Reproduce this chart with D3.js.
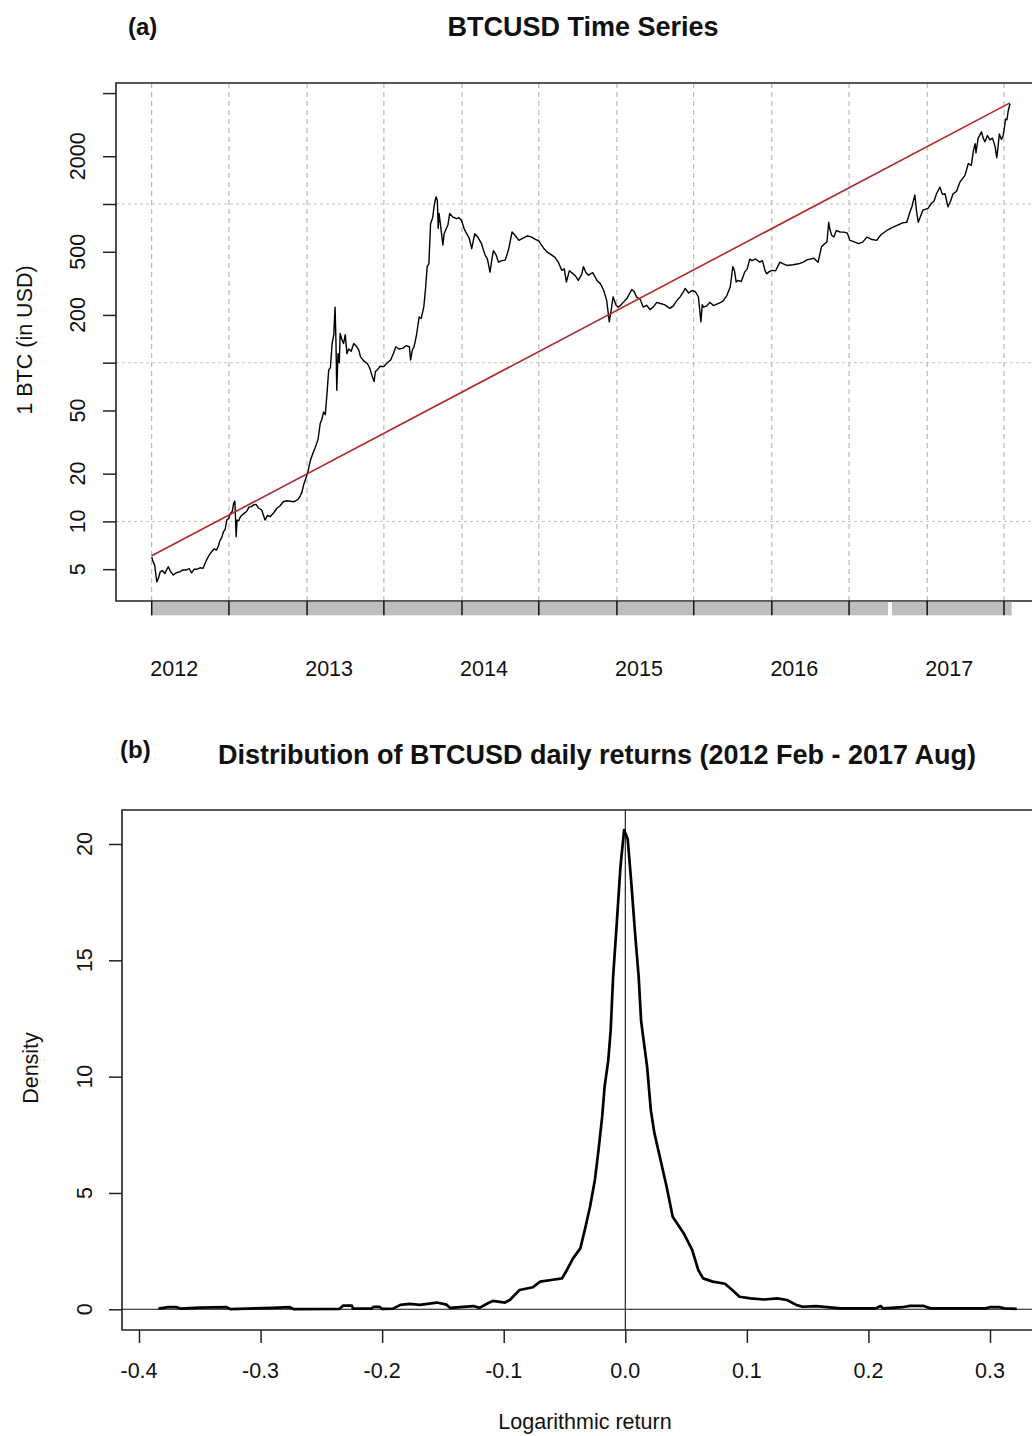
<!DOCTYPE html>
<html>
<head>
<meta charset="utf-8">
<script src="https://cdn.jsdelivr.net/npm/d3@7"></script>
<style>
  body { margin: 0; background: #fff; }
  svg { display: block; }
  text { font-family: "Liberation Sans", Arial, sans-serif; fill: #111; }
</style>
</head>
<body>
<svg id="fig" width="1032" height="1436"></svg>
<script>
// ---------- Panel (a): BTCUSD closing price, log scale ----------
const priceSeries = [
  ["2012-02-01",5.98],["2012-02-04",5.6],["2012-02-08",5.3],["2012-02-13",4.16],["2012-02-17",4.4],
  ["2012-02-21",4.81],["2012-02-26",4.9],["2012-03-03",4.70],["2012-03-07",4.95],["2012-03-11",5.18],
  ["2012-03-16",4.85],["2012-03-23",4.59],["2012-03-30",4.75],["2012-04-07",4.81],["2012-04-14",4.95],
  ["2012-04-23",4.94],["2012-04-29",5.05],["2012-05-05",4.74],["2012-05-11",5.0],["2012-05-17",4.99],
  ["2012-05-25",5.1],["2012-06-01",5.06],["2012-06-09",5.70],["2012-06-15",6.1],["2012-06-21",6.43],
  ["2012-06-27",6.7],["2012-07-03",6.6],["2012-07-07",7.0],["2012-07-11",7.6],["2012-07-15",7.9],
  ["2012-07-19",8.6],["2012-07-23",8.9],["2012-07-27",10.2],["2012-08-01",10.5],["2012-08-04",11.2],
  ["2012-08-09",11.6],["2012-08-12",13.0],["2012-08-15",13.4],["2012-08-18",8.0],["2012-08-20",10.2],
  ["2012-08-24",10.1],["2012-08-28",10.7],["2012-09-05",11.2],["2012-09-12",11.6],["2012-09-17",12.3],
  ["2012-09-23",12.4],["2012-09-28",12.7],["2012-10-04",12.8],["2012-10-10",12.1],["2012-10-17",11.8],
  ["2012-10-25",10.2],["2012-10-31",10.9],["2012-11-06",10.7],["2012-11-14",11.3],["2012-11-22",12.1],
  ["2012-11-29",12.5],["2012-12-07",13.3],["2012-12-15",13.5],["2012-12-23",13.4],["2012-12-31",13.3],
  ["2013-01-06",13.5],["2013-01-12",13.9],["2013-01-16",14.5],["2013-01-20",15.3],["2013-01-24",17],
  ["2013-01-28",18.3],["2013-02-03",20.5],["2013-02-09",24.3],["2013-02-15",27],["2013-02-21",29.5],
  ["2013-02-27",33],["2013-03-04",41.4],["2013-03-08",44],["2013-03-12",48.9],["2013-03-16",47],
  ["2013-03-20",64.1],["2013-03-24",89.8],["2013-03-28",93],["2013-04-01",132],["2013-04-05",150],
  ["2013-04-08",224],["2013-04-10",140],["2013-04-12",67],["2013-04-15",114],["2013-04-18",100],
  ["2013-04-20",153],["2013-04-24",140],["2013-04-28",132],["2013-05-02",150],["2013-05-06",114],
  ["2013-05-10",122],["2013-05-16",118],["2013-05-22",132],["2013-05-28",127],["2013-06-03",120],
  ["2013-06-07",108.8],["2013-06-14",103],["2013-06-23",98.9],["2013-06-29",92],["2013-07-05",81.4],
  ["2013-07-09",76],["2013-07-12",88],["2013-07-16",89.8],["2013-07-23",95],["2013-08-01",94.5],
  ["2013-08-09",100],["2013-08-17",104],["2013-08-24",115],["2013-08-29",126],["2013-09-05",122],
  ["2013-09-14",123],["2013-09-22",128],["2013-09-30",126],["2013-10-03",104],["2013-10-07",120],
  ["2013-10-11",126],["2013-10-17",150],["2013-10-23",194],["2013-10-28",190],["2013-11-03",224],
  ["2013-11-07",290],["2013-11-11",403],["2013-11-15",420],["2013-11-19",751],["2013-11-24",820],
  ["2013-11-28",1000],["2013-12-02",1110],["2013-12-05",1050],["2013-12-07",700],["2013-12-09",872],
  ["2013-12-13",717],["2013-12-18",552],["2013-12-21",650],["2013-12-24",681],["2013-12-30",740],
  ["2014-01-03",872],["2014-01-10",830],["2014-01-19",808],["2014-01-25",820],["2014-01-31",788],
  ["2014-02-06",700],["2014-02-12",650],["2014-02-18",610],["2014-02-24",523],["2014-03-03",650],
  ["2014-03-10",620],["2014-03-19",562],["2014-03-27",480],["2014-04-02",450],["2014-04-08",372],
  ["2014-04-12",440],["2014-04-16",508],["2014-04-22",480],["2014-04-28",430],["2014-05-06",440],
  ["2014-05-14",443],["2014-05-22",520],["2014-05-30",666],["2014-06-05",640],["2014-06-15",590],
  ["2014-06-25",610],["2014-07-05",629],["2014-07-14",620],["2014-07-24",599],["2014-08-01",585],
  ["2014-08-05",562],["2014-08-14",520],["2014-08-21",497],["2014-08-30",480],["2014-09-08",461],
  ["2014-09-16",430],["2014-09-24",382],["2014-09-30",390],["2014-10-05",322],["2014-10-12",380],
  ["2014-10-21",363],["2014-10-27",350],["2014-11-02",330],["2014-11-10",360],["2014-11-14",403],
  ["2014-11-20",370],["2014-11-26",356],["2014-12-06",370],["2014-12-16",330],["2014-12-24",315],
  ["2015-01-01",285],["2015-01-08",246],["2015-01-14",181],["2015-01-18",210],["2015-01-23",260],
  ["2015-01-30",230],["2015-02-04",224],["2015-02-10",230],["2015-02-16",240],["2015-02-25",255],
  ["2015-03-08",289],["2015-03-14",280],["2015-03-19",260],["2015-03-28",250],["2015-04-04",224],
  ["2015-04-12",230],["2015-04-20",216],["2015-04-28",225],["2015-05-06",240],["2015-05-14",236],
  ["2015-05-24",232],["2015-06-06",220],["2015-06-14",228],["2015-06-22",246],["2015-06-30",260],
  ["2015-07-06",275],["2015-07-12",294],["2015-07-20",275],["2015-07-28",285],["2015-08-05",280],
  ["2015-08-12",260],["2015-08-18",181],["2015-08-21",232],["2015-08-24",224],["2015-09-01",228],
  ["2015-09-08",240],["2015-09-16",229],["2015-09-26",235],["2015-10-04",240],["2015-10-10",246],
  ["2015-10-18",265],["2015-10-26",300],["2015-11-01",403],["2015-11-05",380],["2015-11-09",322],
  ["2015-11-13",330],["2015-11-21",325],["2015-11-29",372],["2015-12-05",390],["2015-12-11",449],
  ["2015-12-16",440],["2015-12-24",450],["2016-01-04",430],["2016-01-10",440],["2016-01-16",380],
  ["2016-01-20",363],["2016-01-26",375],["2016-02-01",382],["2016-02-10",380],["2016-02-20",430],
  ["2016-02-28",420],["2016-03-08",410],["2016-03-22",414],["2016-04-04",420],["2016-04-15",430],
  ["2016-04-24",445],["2016-05-01",449],["2016-05-10",455],["2016-05-20",430],["2016-05-28",537],
  ["2016-06-04",560],["2016-06-10",578],["2016-06-14",767],["2016-06-17",690],["2016-06-21",636],
  ["2016-06-26",620],["2016-07-02",680],["2016-07-11",666],["2016-07-20",665],["2016-07-28",655],
  ["2016-08-03",590],["2016-08-12",580],["2016-08-23",562],["2016-09-02",575],["2016-09-12",618],
  ["2016-09-22",600],["2016-10-05",590],["2016-10-15",640],["2016-10-29",681],["2016-11-10",710],
  ["2016-11-22",733],["2016-12-05",760],["2016-12-15",767],["2016-12-23",900],["2016-12-27",961],
  ["2017-01-03",1140],["2017-01-07",900],["2017-01-11",767],["2017-01-16",830],["2017-01-22",915],
  ["2017-02-03",938],["2017-02-11",1011],["2017-02-17",1040],["2017-02-23",1160],["2017-03-03",1277],
  ["2017-03-09",1150],["2017-03-15",1160],["2017-03-22",961],["2017-03-28",1040],["2017-04-03",1160],
  ["2017-04-11",1200],["2017-04-19",1372],["2017-05-01",1514],["2017-05-09",1800],["2017-05-16",1750],
  ["2017-05-21",2175],["2017-05-25",2400],["2017-05-27",2100],["2017-06-01",2590],["2017-06-09",2850],
  ["2017-06-13",2600],["2017-06-17",2465],["2017-06-23",2700],["2017-06-29",2534],["2017-07-05",2600],
  ["2017-07-11",2300],["2017-07-15",1958],["2017-07-18",2300],["2017-07-21",2760],["2017-07-26",2550],
  ["2017-07-30",2694],["2017-08-05",3431],["2017-08-08",3400],["2017-08-11",3870],["2017-08-15",4277]
];
// log-linear trend drawn from first to last observation
const trendEnds = [["2012-02-01", 6.07], ["2017-08-15", 4335]];
const priceTicks = [5, 10, 20, 50, 100, 200, 500, 1000, 2000, 5000];
const priceTickLabels = [5, 10, 20, 50, 200, 500, 2000];
const priceGridLevels = [10, 100, 1000];
const gridDates = ["2012-02-01","2012-08-01","2013-02-01","2013-08-01","2014-02-01","2014-08-01",
                   "2015-02-01","2015-08-01","2016-02-01","2016-08-01","2017-02-01","2017-08-01"];
const yearLabels = ["2012","2013","2014","2015","2016","2017"];
const coverageSpans = [["2012-02-01","2016-11-01"],["2016-11-10","2017-08-19"]];

// ---------- Panel (b): kernel density of daily log returns ----------
const returnGrid = [
  -0.384,-0.376,-0.369,-0.366,-0.350,-0.328,-0.325,-0.290,-0.276,-0.273,-0.235,-0.232,-0.225,-0.224,
  -0.209,-0.207,-0.202,-0.200,-0.191,-0.185,-0.177,-0.169,-0.155,-0.147,-0.144,-0.136,-0.125,-0.120,
  -0.113,-0.109,-0.099,-0.095,-0.087,-0.076,-0.070,-0.061,-0.052,-0.048,-0.043,-0.037,-0.033,-0.029,
  -0.025,-0.022,-0.019,-0.017,-0.014,-0.012,-0.010,-0.007,-0.004,-0.001,0.002,0.005,0.008,0.011,
  0.013,0.018,0.021,0.024,0.029,0.034,0.039,0.048,0.055,0.060,0.064,0.072,0.082,0.088,0.094,0.103,
  0.114,0.125,0.133,0.141,0.146,0.157,0.166,0.177,0.199,0.206,0.210,0.212,0.228,0.234,0.245,0.251,
  0.296,0.300,0.308,0.312,0.322
];
const densityValues = [
  0.03,0.09,0.09,0.03,0.07,0.09,0.01,0.06,0.09,0.01,0.02,0.16,0.16,0.03,
  0.03,0.10,0.10,0.02,0.03,0.19,0.23,0.19,0.29,0.20,0.06,0.09,0.14,0.06,
  0.26,0.36,0.29,0.40,0.83,0.95,1.19,1.26,1.33,1.69,2.19,2.62,3.48,4.41,
  5.56,6.85,8.28,9.57,10.7,12.0,14.3,16.6,19.0,20.6,20.2,18.3,16.2,14.3,
  12.4,10.4,8.56,7.56,6.42,5.27,3.98,3.27,2.55,1.69,1.33,1.19,1.10,0.83,0.54,0.47,
  0.42,0.47,0.40,0.18,0.11,0.14,0.09,0.04,0.04,0.04,0.14,0.04,0.09,0.15,0.15,0.04,
  0.04,0.09,0.09,0.04,0.02
];
const densityTicks = [0, 5, 10, 15, 20];
const returnTicks = [-0.4, -0.3, -0.2, -0.1, 0.0, 0.1, 0.2, 0.3];

const svg = d3.select("#fig");
svg.append("rect").attr("width", 1032).attr("height", 1436).attr("fill", "#fff");
const parse = d3.timeParse("%Y-%m-%d");

// ===== Panel (a) =====
const A = { left: 116, top: 83, bottom: 601, right: 1046 };
const xA = d3.scaleTime()
  .domain([parse("2012-02-01"), parse("2017-08-01")])
  .range([151.7, 1004]);
const yA = d3.scaleLog().domain([10, 1000]).range([521.4, 204]);

const gA = svg.append("g");

// grid
gA.selectAll("line.vgrid").data(gridDates).join("line")
  .attr("x1", d => xA(parse(d))).attr("x2", d => xA(parse(d)))
  .attr("y1", A.top).attr("y2", A.bottom)
  .attr("stroke", "#aaaaaa").attr("stroke-width", 1).attr("stroke-dasharray", "5,4");
gA.selectAll("line.hgrid").data(priceGridLevels).join("line")
  .attr("x1", A.left).attr("x2", A.right)
  .attr("y1", d => yA(d)).attr("y2", d => yA(d))
  .attr("stroke", "#c4c4c4").attr("stroke-width", 1).attr("stroke-dasharray", "3,3");

// price and trend lines
const priceLine = d3.line().x(d => xA(parse(d[0]))).y(d => yA(d[1]));
gA.append("path").datum(priceSeries).attr("d", priceLine)
  .attr("fill", "none").attr("stroke", "#000").attr("stroke-width", 1.4)
  .attr("stroke-linejoin", "round");
gA.append("path").datum(trendEnds).attr("d", priceLine)
  .attr("fill", "none").attr("stroke", "#b2282a").attr("stroke-width", 1.6);

// box
gA.append("path")
  .attr("d", `M${A.right},${A.top}H${A.left}V${A.bottom}H${A.right}`)
  .attr("fill", "none").attr("stroke", "#222").attr("stroke-width", 1.6);

// coverage bar under the time axis
gA.selectAll("rect.cov").data(coverageSpans).join("rect")
  .attr("x", d => xA(parse(d[0])))
  .attr("width", d => xA(parse(d[1])) - xA(parse(d[0])))
  .attr("y", A.bottom + 0.8).attr("height", 13.5)
  .attr("fill", "#bebebe");
gA.selectAll("line.xtick").data(gridDates).join("line")
  .attr("x1", d => xA(parse(d))).attr("x2", d => xA(parse(d)))
  .attr("y1", A.bottom).attr("y2", A.bottom + 14.3)
  .attr("stroke", "#111").attr("stroke-width", 1.5);

// year labels
gA.selectAll("text.year").data(yearLabels).join("text")
  .attr("x", d => xA(new Date(+d, 2, 25))).attr("y", 676)
  .attr("text-anchor", "middle").attr("font-size", 21.5)
  .text(d => d);

// y axis ticks via d3 axis
const axA = d3.axisLeft(yA).tickValues(priceTicks).tickSize(13).tickFormat("");
const axAg = gA.append("g").attr("transform", `translate(${A.left},0)`).call(axA);
axAg.select(".domain").remove();
axAg.selectAll(".tick line").attr("stroke", "#222").attr("stroke-width", 1.5);
gA.selectAll("text.ylab").data(priceTickLabels).join("text")
  .attr("transform", d => `translate(85,${yA(d)}) rotate(-90)`)
  .attr("text-anchor", "middle").attr("font-size", 21.5)
  .text(d => d);

gA.append("text")
  .attr("transform", "translate(32,340) rotate(-90)")
  .attr("text-anchor", "middle").attr("font-size", 21.5)
  .text("1 BTC (in USD)");

gA.append("text").attr("x", 583).attr("y", 36)
  .attr("text-anchor", "middle").attr("font-size", 27).attr("font-weight", "bold")
  .text("BTCUSD Time Series");
gA.append("text").attr("x", 128).attr("y", 35)
  .attr("font-family", "Lato, 'Open Sans', sans-serif")
  .attr("font-size", 24).attr("font-weight", "bold")
  .text("(a)");

// ===== Panel (b) =====
const B = { left: 122, top: 810, bottom: 1330, right: 1046 };
const xB = d3.scaleLinear().domain([-0.4, 0.3]).range([139, 990]);
const yB = d3.scaleLinear().domain([0, 20]).range([1309.3, 844]);
const gB = svg.append("g");

// reference lines at zero
gB.append("line").attr("x1", B.left).attr("x2", B.right)
  .attr("y1", yB(0)).attr("y2", yB(0)).attr("stroke", "#111").attr("stroke-width", 1.1);
gB.append("line").attr("x1", xB(0)).attr("x2", xB(0))
  .attr("y1", B.top).attr("y2", B.bottom).attr("stroke", "#111").attr("stroke-width", 1.1);

const densityPts = returnGrid.map((r, i) => [r, densityValues[i]]);
gB.append("path").datum(densityPts)
  .attr("d", d3.line().x(d => xB(d[0])).y(d => yB(d[1])))
  .attr("fill", "none").attr("stroke", "#000").attr("stroke-width", 2.7)
  .attr("stroke-linejoin", "round");

gB.append("path")
  .attr("d", `M${B.right},${B.top}H${B.left}V${B.bottom}H${B.right}`)
  .attr("fill", "none").attr("stroke", "#222").attr("stroke-width", 1.6);

const axBx = d3.axisBottom(xB).tickValues(returnTicks).tickSize(13).tickFormat("");
const axBxg = gB.append("g").attr("transform", `translate(0,${B.bottom})`).call(axBx);
axBxg.select(".domain").remove();
axBxg.selectAll(".tick line").attr("stroke", "#222").attr("stroke-width", 1.5);
gB.selectAll("text.xlab").data(returnTicks).join("text")
  .attr("x", d => xB(d)).attr("y", 1378)
  .attr("text-anchor", "middle").attr("font-size", 21.5)
  .text(d => d3.format(".1f")(d).replace("−", "-"));

const axBy = d3.axisLeft(yB).tickValues(densityTicks).tickSize(13).tickFormat("");
const axByg = gB.append("g").attr("transform", `translate(${B.left},0)`).call(axBy);
axByg.select(".domain").remove();
axByg.selectAll(".tick line").attr("stroke", "#222").attr("stroke-width", 1.5);
gB.selectAll("text.ylab").data(densityTicks).join("text")
  .attr("transform", d => `translate(92,${yB(d)}) rotate(-90)`)
  .attr("text-anchor", "middle").attr("font-size", 21.5)
  .text(d => d);

gB.append("text").attr("transform", "translate(38,1068) rotate(-90)")
  .attr("text-anchor", "middle").attr("font-size", 21.5).text("Density");
gB.append("text").attr("x", 585).attr("y", 1429)
  .attr("text-anchor", "middle").attr("font-size", 21.5).text("Logarithmic return");

gB.append("text").attr("x", 597).attr("y", 764)
  .attr("text-anchor", "middle").attr("font-size", 27).attr("font-weight", "bold")
  .text("Distribution of BTCUSD daily returns (2012 Feb - 2017 Aug)");
gB.append("text").attr("x", 120).attr("y", 758)
  .attr("font-family", "Lato, 'Open Sans', sans-serif")
  .attr("font-size", 24).attr("font-weight", "bold")
  .text("(b)");
</script>
</body>
</html>
